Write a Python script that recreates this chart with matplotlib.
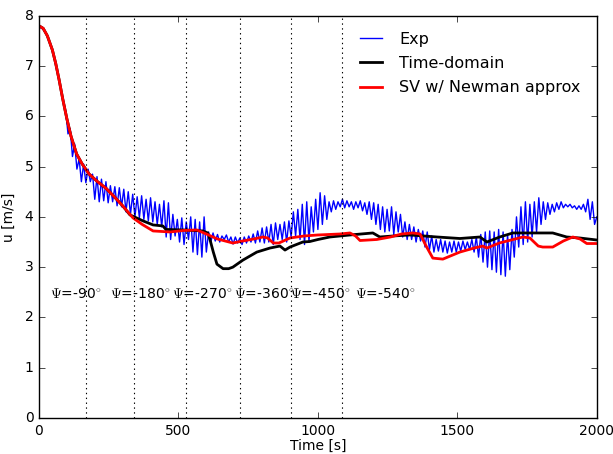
import numpy as np
import matplotlib
matplotlib.use("Agg")
import matplotlib.pyplot as plt

plt.style.use('classic')

# ---- data ----
# Experimental record, sampled every 8 s from 0 to 2000 s
exp_dt = 8.0
exp_u = [
    7.78, 7.76, 7.72, 7.66, 7.56, 7.44, 7.30, 7.12, 6.93, 6.72, 6.50, 6.28, 6.10, 5.65, 5.75, 5.20, 5.45, 4.95, 5.15, 4.70, 5.05, 4.68, 4.95, 4.70, 4.85,
    4.35, 4.80, 4.30, 4.75, 4.32, 4.70, 4.28, 4.62, 4.30, 4.60, 4.22, 4.58, 4.20, 4.55, 4.10, 4.50, 4.05, 4.45, 4.00, 4.40, 3.98, 4.42, 3.95, 4.35, 3.92,
    4.38, 3.90, 4.30, 3.85, 4.25, 3.80, 4.32, 3.60, 4.28, 3.55, 4.05, 3.62, 3.95, 3.50, 3.98, 3.45, 3.90, 3.55, 4.00, 3.30, 3.95, 3.25, 3.90, 3.20, 4.00,
    3.30, 3.70, 3.50, 3.68, 3.52, 3.65, 3.50, 3.62, 3.55, 3.64, 3.50, 3.60, 3.46, 3.60, 3.48, 3.58, 3.45, 3.60, 3.48, 3.62, 3.50, 3.66, 3.48, 3.72, 3.50,
    3.78, 3.48, 3.80, 3.50, 3.85, 3.45, 3.88, 3.55, 3.85, 3.55, 3.90, 3.50, 3.92, 3.60, 4.10, 3.62, 4.15, 3.55, 4.25, 3.45, 4.30, 3.50, 4.20, 3.70, 4.35,
    3.75, 4.48, 3.85, 4.42, 3.95, 4.30, 4.10, 4.32, 4.15, 4.30, 4.20, 4.35, 4.18, 4.32, 4.20, 4.30, 4.15, 4.30, 4.18, 4.32, 4.12, 4.28, 4.05, 4.30, 3.95,
    4.28, 3.85, 4.25, 3.75, 4.20, 3.70, 4.15, 3.72, 4.20, 3.65, 4.10, 3.70, 4.05, 3.60, 3.90, 3.55, 3.85, 3.55, 3.80, 3.50, 3.75, 3.52, 3.72, 3.40, 3.70,
    3.35, 3.62, 3.30, 3.55, 3.32, 3.55, 3.30, 3.52, 3.28, 3.50, 3.30, 3.52, 3.30, 3.50, 3.32, 3.52, 3.35, 3.50, 3.35, 3.55, 3.30, 3.60, 3.20, 3.65, 3.10,
    3.70, 3.00, 3.72, 2.95, 3.70, 2.90, 3.75, 2.85, 3.70, 2.82, 3.65, 2.95, 3.75, 3.20, 4.00, 3.40, 4.20, 3.45, 4.30, 3.50, 4.25, 3.60, 4.30, 3.70, 4.38,
    3.85, 4.30, 3.95, 4.28, 4.05, 4.25, 4.10, 4.28, 4.15, 4.30, 4.18, 4.25, 4.20, 4.25, 4.18, 4.22, 4.15, 4.22, 4.15, 4.25, 4.10, 4.35, 3.95, 4.30, 3.85,
    4.00,
]

td_t = [0, 15, 30, 48, 60, 72, 85, 100, 115, 135, 155, 180, 210, 240, 270, 300, 326, 373, 409, 444, 455,
        516, 588, 605, 613, 625, 638, 660, 680, 695, 731, 781, 828, 864, 882, 900, 946, 971, 1000,
        1043, 1115, 1197, 1222, 1270, 1330, 1380, 1427, 1509, 1581, 1606, 1652, 1699, 1842, 1892, 1939, 2000]
td_u = [7.8, 7.75, 7.6, 7.32, 7.05, 6.73, 6.35, 5.95, 5.6, 5.25, 5.05, 4.85, 4.7, 4.57, 4.4, 4.22, 4.04, 3.92, 3.84, 3.82, 3.75,
        3.74, 3.72, 3.68, 3.55, 3.3, 3.06, 2.97, 2.97, 3.0, 3.14, 3.30, 3.38, 3.42, 3.34, 3.40, 3.50, 3.51, 3.55,
        3.60, 3.64, 3.68, 3.60, 3.62, 3.64, 3.62, 3.60, 3.57, 3.60, 3.50, 3.60, 3.68, 3.68, 3.60, 3.58, 3.54]

sv_t = [0, 15, 30, 48, 60, 72, 85, 100, 115, 135, 155, 180, 210, 240, 270, 300, 337, 370, 409, 470, 520,
        566, 600, 640, 695, 730, 770, 803, 820, 840, 860, 900, 950, 1000, 1080, 1115, 1135, 1151, 1211,
        1260, 1300, 1340, 1366, 1390, 1412, 1448, 1509, 1560, 1591, 1606, 1650, 1700, 1735, 1760, 1790,
        1806, 1842, 1880, 1914, 1940, 1964, 2000]
sv_u = [7.8, 7.75, 7.6, 7.32, 7.05, 6.73, 6.35, 5.95, 5.6, 5.25, 5.05, 4.85, 4.7, 4.57, 4.4, 4.22, 3.98, 3.85, 3.72, 3.70, 3.73,
        3.74, 3.66, 3.56, 3.48, 3.52, 3.56, 3.60, 3.58, 3.48, 3.48, 3.58, 3.62, 3.64, 3.66, 3.68, 3.62, 3.53, 3.55,
        3.60, 3.66, 3.68, 3.66, 3.40, 3.18, 3.16, 3.30, 3.38, 3.42, 3.38, 3.48, 3.55, 3.60, 3.58, 3.42,
        3.40, 3.40, 3.52, 3.60, 3.56, 3.47, 3.47]

heading_lines = [168, 340, 527, 720, 903, 1086]
heading_labels = [r'$\Psi$=-90$^{\circ}$', r'$\Psi$=-180$^{\circ}$', r'$\Psi$=-270$^{\circ}$',
                  r'$\Psi$=-360$^{\circ}$', r'$\Psi$=-450$^{\circ}$', r'$\Psi$=-540$^{\circ}$']
label_x = [39, 254, 477, 699, 900, 1133]
label_y = 2.45

# ---- plot ----
fig = plt.figure(figsize=(6.13, 4.54), dpi=100)
ax = fig.add_axes([0.0636, 0.0793, 0.910, 0.886])

exp_t = np.arange(len(exp_u)) * exp_dt
ax.plot(exp_t, exp_u, color='b', lw=1.0, label='Exp')
ax.plot(td_t, td_u, color='k', lw=2.0, label='Time-domain')
ax.plot(sv_t, sv_u, color='r', lw=2.0, label='SV w/ Newman approx')

for xv in heading_lines:
    ax.axvline(xv, color='k', ls=(0, (1, 2.5)), lw=0.8)
for xv, lab in zip(label_x, heading_labels):
    ax.text(xv, label_y, lab, fontsize=10, ha='left', va='center')

ax.set_xlim(0, 2000)
ax.set_ylim(0, 8)
ax.set_xlabel('Time [s]', fontsize=10, labelpad=1)
ax.set_ylabel('u [m/s]', fontsize=10, labelpad=6)
ax.tick_params(labelsize=10)
leg = ax.legend(loc='upper right', frameon=False, fontsize=11.5, handlelength=2.0,
                borderaxespad=0.6, labelspacing=0.58)

fig.savefig('out.png', dpi=100)
